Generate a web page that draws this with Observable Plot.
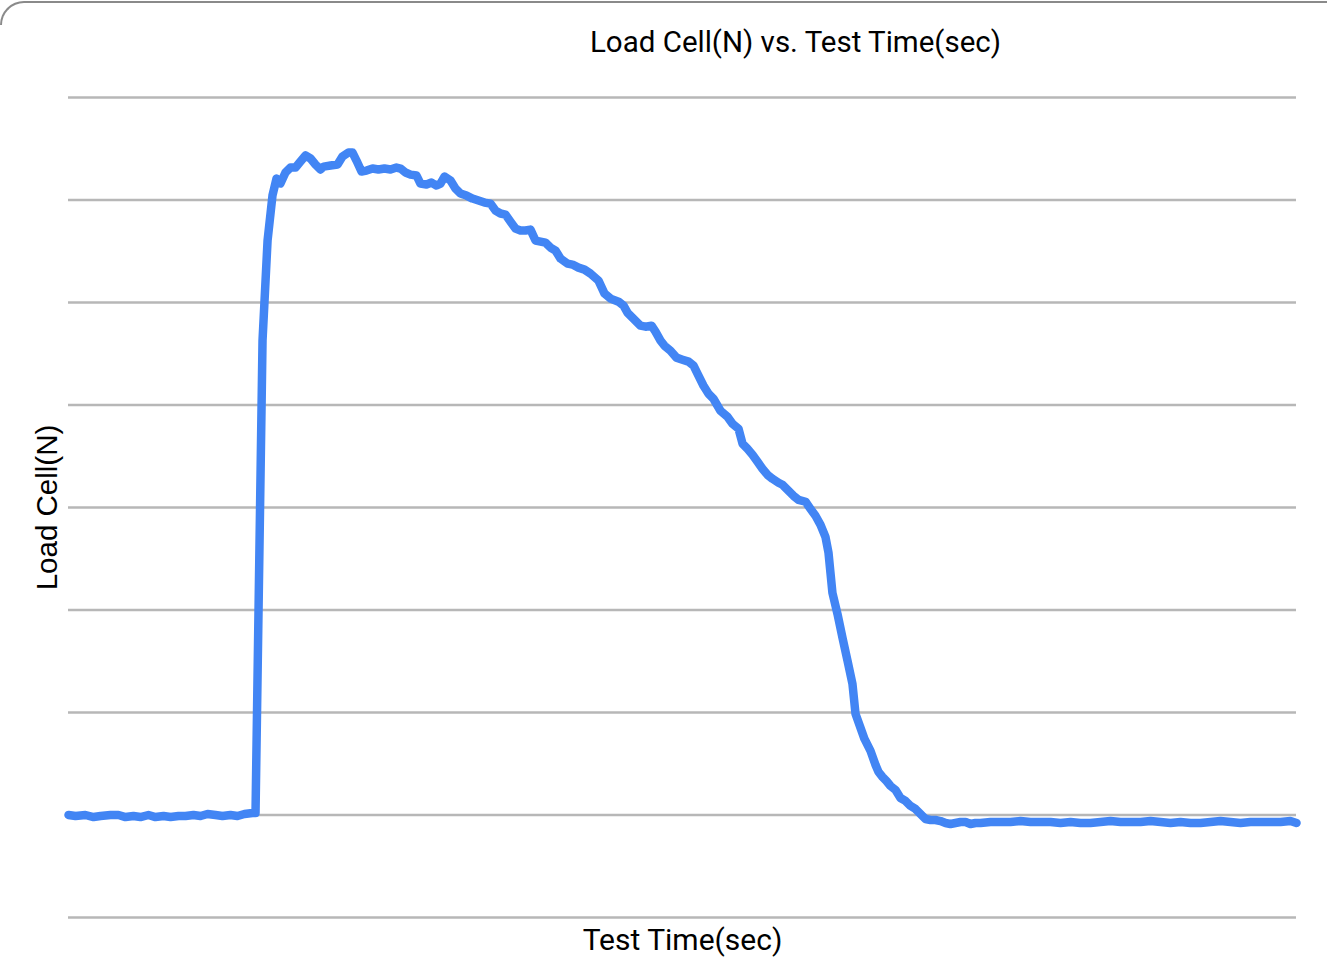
<!DOCTYPE html>
<html>
<head>
<meta charset="utf-8">
<script src="https://cdn.jsdelivr.net/npm/d3@7"></script>
<script src="https://cdn.jsdelivr.net/npm/@observablehq/plot@0.6"></script>
<style>
  html, body { margin: 0; padding: 0; background: #fff; }
  body { width: 1327px; height: 970px; position: relative; overflow: hidden; }
  #card { position: absolute; left: 0; top: 1px; width: 1400px; height: 24px;
          border-top: 2.5px solid #8a8a8a; border-left: 2.5px solid #8a8a8a;
          border-top-left-radius: 24px; box-sizing: border-box; }
  #chart { position: absolute; left: 0; top: 0; }
</style>
</head>
<body>
<div id="card"></div>
<div id="chart"></div>
<script>
// Test time (sec) and load cell readings (N)
const time = [
  0, 0.57, 1.38, 2.04, 2.61, 3.42, 4.07, 4.64, 5.29, 5.86, 6.51, 7.08, 7.74, 8.31, 8.96, 9.53,
  10.18, 10.75, 11.32, 11.97, 12.54, 13.19, 13.76, 14.33, 14.98, 15.23,
  15.80, 16.21, 16.61, 16.94, 17.26, 17.67, 18.08, 18.49, 18.89, 19.30, 19.71, 20.11, 20.52, 20.77,
  21.34, 21.91, 22.31, 22.80, 23.13, 23.45, 23.86, 24.27, 24.76, 25.24, 25.73, 26.22, 26.71, 27.04,
  27.44, 27.85, 28.34, 28.66, 29.15, 29.56, 29.97, 30.29, 30.62, 31.11, 31.51, 31.92, 32.41, 32.90,
  33.39, 33.88, 34.36, 34.77, 35.18, 35.59, 35.99, 36.40, 36.81, 37.21, 37.62, 38.03, 38.44, 38.84,
  39.25, 39.66, 40.07, 40.64, 41.04, 41.53, 42.02, 42.51, 43.16, 43.65, 44.14, 44.79, 45.20, 45.52,
  46.01, 46.58, 46.99, 47.48, 47.80, 48.21, 48.53, 49.02, 49.51, 50.00, 50.49, 50.90, 51.30, 51.71,
  52.12, 52.52, 53.09, 53.66, 54.07, 54.56, 54.89, 55.29, 55.70, 56.11, 56.51, 56.92, 57.33, 57.82,
  58.14, 58.63, 59.04, 59.45, 60.02, 60.42, 60.83, 61.24, 61.64, 61.89, 62.05, 62.21, 62.62, 63.03,
  63.44, 63.84, 64.09, 64.50, 64.82, 65.31, 65.72, 65.96, 66.29, 66.61, 66.94, 67.35, 67.75, 68.16,
  68.57, 68.97, 69.38, 69.79, 70.20, 70.60, 71.01, 71.42, 71.82, 72.23, 72.64, 73.05, 73.45, 73.86,
  74.27, 75.08, 75.90, 76.71, 77.52, 78.34, 79.15, 79.97, 80.78, 81.60, 82.41, 83.22, 84.04, 84.85,
  85.67, 86.48, 87.30, 88.11, 88.93, 89.74, 90.55, 91.37, 92.18, 93.00, 93.81, 94.63, 95.44, 96.25,
  97.07, 97.88, 98.70, 99.51, 100
];
const load = [
  0, -1.0, 0, -2.0, -1.0, 0, 0, -2.0, -1.0, -2.0, 0, -2.0, -1.0, -2.0, -1.0, -1.0,
  0, -1.0, 1.0, 0, -1.0, 0, -1.0, 1.0, 2.0, 2.0,
  462.8, 560.4, 604.3, 620.9, 616.0, 626.8, 631.7, 631.7, 637.5, 643.4, 640.5, 634.6, 629.7, 632.6,
  633.6, 634.6, 642.4, 646.3, 646.3, 638.5, 627.8, 628.7, 630.7, 629.7, 630.7, 629.7, 631.7, 630.7,
  626.8, 624.8, 623.9, 616.0, 615.1, 617.0, 614.1, 616.0, 622.9, 619.0, 611.2, 606.3, 604.3, 601.4,
  599.5, 597.5, 596.5, 589.7, 586.8, 585.8, 578.9, 572.1, 570.2, 570.2, 571.1, 560.4, 559.4, 558.4,
  553.6, 550.6, 542.8, 537.9, 537.0, 534.0, 532.1, 528.2, 521.3, 508.7, 503.8, 500.8, 496.9, 490.1,
  484.2, 477.4, 476.4, 477.4, 471.6, 462.8, 457.9, 453.0, 446.2, 444.2, 442.3, 438.4, 428.6, 418.8,
  411.0, 406.1, 394.4, 388.6, 381.7, 376.9, 362.2, 357.3, 351.5, 344.6, 337.8, 331.9, 328.0, 324.1,
  322.2, 316.3, 311.4, 307.5, 305.6, 298.7, 291.9, 283.1, 271.4, 255.8, 236.3, 216.7, 196.2, 172.8,
  150.4, 127.9, 98.6, 84.9, 74.2, 62.5, 48.8, 42.0, 37.1, 33.2, 28.3, 24.4, 16.6, 13.7,
  8.8, 5.9, 1.0, -3.9, -4.9, -4.9, -5.9, -7.8, -8.8, -7.8, -6.8, -6.8, -8.8, -7.8,
  -7.8, -6.8, -6.8, -6.8, -5.9, -6.8, -6.8, -6.8, -7.8, -6.8, -7.8, -7.8, -6.8, -5.9,
  -6.8, -6.8, -6.8, -5.9, -6.8, -7.8, -6.8, -7.8, -7.8, -6.8, -5.9, -6.8, -7.8, -6.8,
  -6.8, -6.8, -6.8, -5.9, -7.8
];
const yTicks = [-100, 0, 100, 200, 300, 400, 500, 600, 700];

const data = time.map((t, i) => ({t, v: load[i]}));

const chart = Plot.plot({
  width: 1327,
  height: 970,
  marginTop: 97,
  marginBottom: 53,
  marginLeft: 68,
  marginRight: 31,
  style: {background: "transparent", fontFamily: "Roboto, sans-serif"},
  x: {domain: [0, 100], axis: null},
  y: {domain: [-100, 700], axis: null},
  marks: [
    Plot.ruleY(yTicks, {stroke: "#b7b7b7", strokeWidth: 2.5}),
    Plot.line(data, {x: "t", y: "v", stroke: "#4285f4", strokeWidth: 8.5,
      strokeLinejoin: "round", strokeLinecap: "round"}),
    Plot.text(["Load Cell(N) vs. Test Time(sec)"], {frameAnchor: "top", lineAnchor: "middle",
      dy: -55, dx: 113, fontSize: 29.5, fill: "#000", fontFamily: "Roboto"}),
    Plot.text(["Test Time(sec)"], {frameAnchor: "bottom", lineAnchor: "middle", dy: 23,
      fontSize: 30, fill: "#000", fontFamily: "Roboto"}),
    Plot.text(["Load Cell(N)"], {frameAnchor: "left", textAnchor: "middle", lineAnchor: "middle",
      dx: -21, rotate: -90, fontSize: 29.5,
      fill: "#000", fontFamily: "Liberation Sans, Arial, sans-serif"})
  ]
});
document.getElementById("chart").appendChild(chart);
</script>
</body>
</html>
